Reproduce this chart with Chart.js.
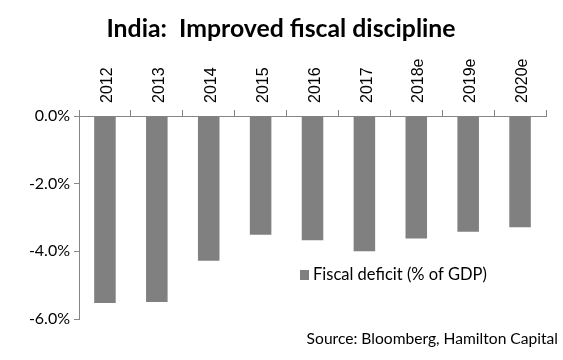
<!DOCTYPE html>
<html>
<head>
<meta charset="utf-8">
<script src="https://cdn.jsdelivr.net/npm/chart.js@4"></script>
<style>
  html, body { margin: 0; padding: 0; background: #fff; }
  #wrap { width: 563px; height: 360px; }
</style>
</head>
<body>
<div id="wrap"><canvas id="deficitChart" width="563" height="360"></canvas></div>
<script>
// Data
const years = ['2012', '2013', '2014', '2015', '2016', '2017', '2018e', '2019e', '2020e'];
const deficit = [-5.53, -5.50, -4.28, -3.51, -3.67, -4.00, -3.62, -3.42, -3.29];
const yTicks = [0, -2, -4, -6];

const titleText = 'India:  Improved fiscal discipline';
const seriesLabel = 'Fiscal deficit (% of GDP)';
const sourceText = 'Source: Bloomberg, Hamilton Capital';

const axisColor = '#868686';
const barColor = '#808080';

// Title, legend and source note drawn on the canvas
const notesPlugin = {
    id: 'notes',
    afterDraw(chart) {
        const ctx = chart.ctx;
        ctx.save();
        ctx.fillStyle = '#000';

        ctx.font = 'bold 24.8px Lato';
        ctx.textAlign = 'center';
        ctx.textBaseline = 'alphabetic';
        ctx.fillText(titleText, 281, 37);

        ctx.textBaseline = 'middle';
        ctx.textAlign = 'left';
        ctx.fillStyle = barColor;
        ctx.fillRect(300, 270, 9, 10);
        ctx.fillStyle = '#000';
        ctx.font = '16.5px Lato';
        ctx.fillText(chart.data.datasets[0].label, 313, 275);

        ctx.font = '15.6px Lato';
        ctx.textAlign = 'right';
        ctx.fillText(sourceText, 558, 339);
        ctx.restore();
    }
};

function createDeficitChart() {
    const ctx = document.getElementById('deficitChart').getContext('2d');
    new Chart(ctx, {
        type: 'bar',
        data: {
            labels: years,
            datasets: [{
                label: seriesLabel,
                data: deficit,
                backgroundColor: barColor,
                barPercentage: 0.83,
                categoryPercentage: 0.5
            }]
        },
        options: {
            responsive: false,
            animation: false,
            layout: { padding: { top: 0, right: 17, bottom: 41, left: 0 } },
            plugins: {
                legend: { display: false },
                tooltip: { enabled: false }
            },
            scales: {
                x: {
                    position: 'top',
                    grid: {
                        offset: true,
                        drawOnChartArea: false,
                        drawTicks: true,
                        tickLength: 6,
                        color: axisColor
                    },
                    border: { color: axisColor },
                    ticks: {
                        color: '#000',
                        font: { family: 'Liberation Sans', size: 16 },
                        minRotation: 90,
                        maxRotation: 90,
                        labelOffset: 22,
                        padding: 7
                    },
                    afterFit: (scale) => { scale.height = 116; }
                },
                y: {
                    min: -6,
                    max: 0,
                    afterBuildTicks: (scale) => {
                        scale.ticks = yTicks.map(v => ({ value: v }));
                    },
                    grid: {
                        drawOnChartArea: false,
                        drawTicks: true,
                        tickLength: 5,
                        color: axisColor
                    },
                    border: { color: axisColor },
                    ticks: {
                        color: '#000',
                        font: { family: 'Lato', size: 16 },
                        padding: 4,
                        callback: (v) => v.toFixed(1) + '%'
                    },
                    afterFit: (scale) => { scale.width = 79; }
                }
            }
        },
        plugins: [notesPlugin]
    });
}

createDeficitChart();
</script>
</body>
</html>
